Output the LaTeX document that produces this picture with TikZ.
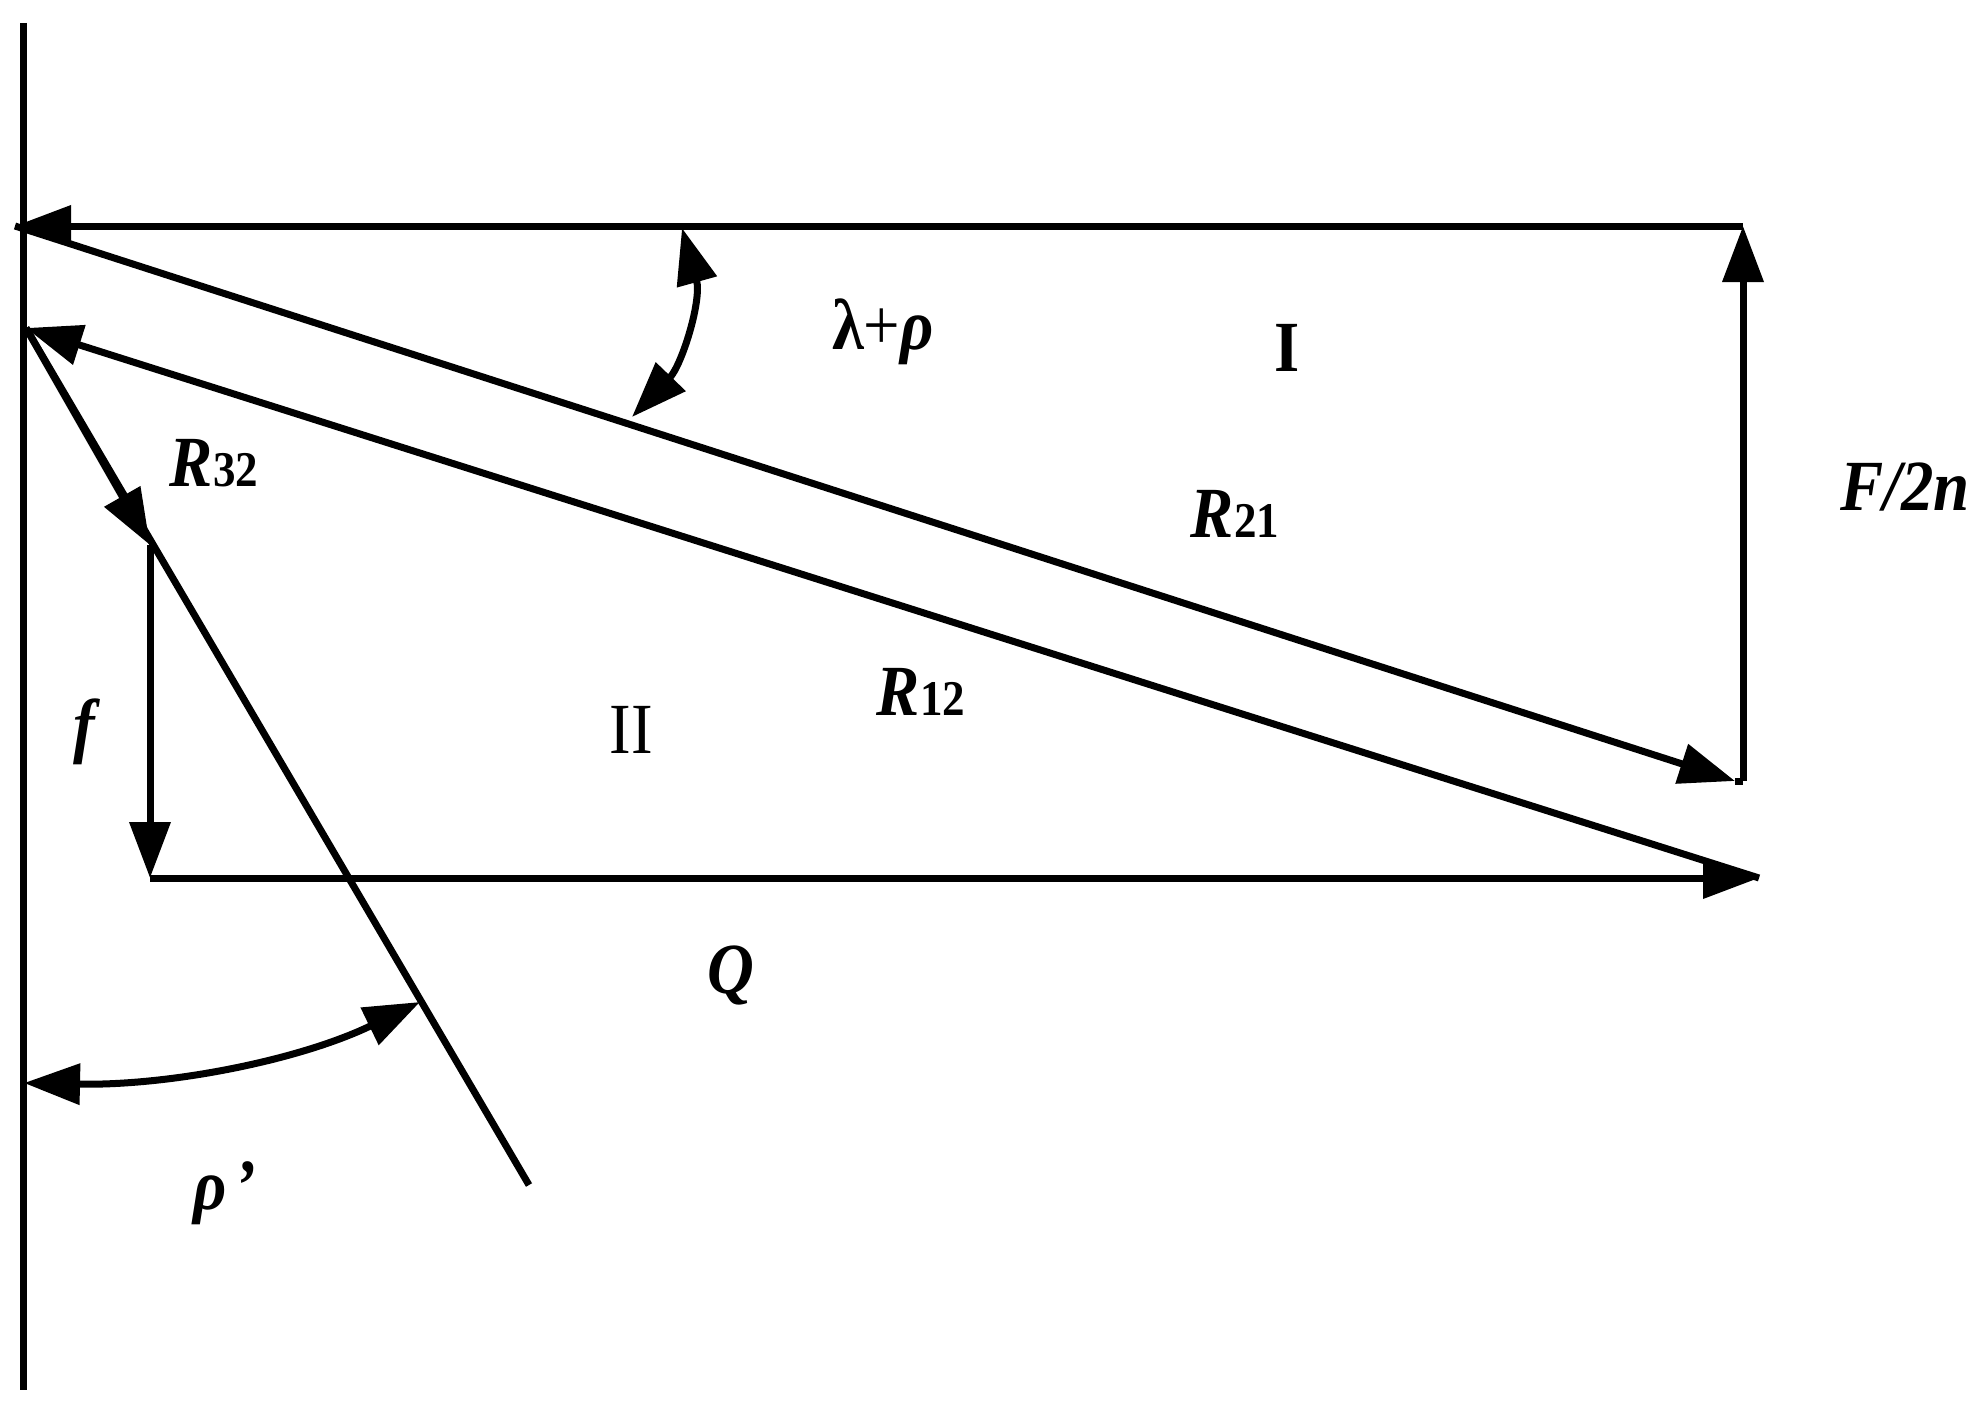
\documentclass[tikz,border=0pt]{standalone}
\usepackage{fontspec}
\setmainfont[FakeStretch=0.9]{Liberation Serif}
\usetikzlibrary{arrows.meta}
\newcommand{\subfont}{\fontsize{50}{54}\selectfont\upshape}
\tikzset{
  wire/.style={draw=black, line width=7pt},
  vec/.style={wire, -{Triangle[length=56pt,width=40pt]}},
  dblvec/.style={wire, {Triangle[length=56pt,width=40pt]}-{Triangle[length=56pt,width=40pt]}},
  lab/.style={inner sep=0pt, font=\fontsize{72}{76}\selectfont\bfseries\itshape}
}
\begin{document}
\begin{tikzpicture}[x=1pt,y=-1pt]
\useasboundingbox (0,0) rectangle (1986,1413);
\coordinate (Wtop) at (23,23);
\coordinate (Wbot) at (23,1390);
\coordinate (A) at (15,226);
\coordinate (B) at (1743,226);
\coordinate (C) at (1743,781);
\coordinate (C1) at (1735,781);
\coordinate (D) at (26,328);
\coordinate (E) at (1759,878);
\coordinate (F) at (150,878);
\coordinate (G) at (150,545);
\coordinate (H) at (529,1185);
\coordinate (Ang1) at (682,228);
\coordinate (Ang2) at (632,417);
\coordinate (Ang3) at (24,1083);
\coordinate (Ang4) at (420,1002);
\draw[wire] (Wtop) -- (Wbot);
\draw[vec] (B) -- (A);
\draw[vec] (C) -- (B);
\draw[vec] (A) -- (C1);
\draw[wire] (C1) -- (C);
\draw[vec] (E) -- (D);
\draw[wire] (D) -- (H);
\draw[vec] (D) -- (G);
\draw[vec] (G) -- (F);
\draw[vec] (F) -- (E);
\draw[dblvec] (Ang1) .. controls (702,300) and (682,365) .. (Ang2);
\draw[dblvec] (Ang3) .. controls (170,1086) and (300,1060) .. (Ang4);
% labels
\node[lab](Lrho) at (883,332) {{\upshape λ}{\mdseries\upshape +}ρ};
\node[lab](Lone) at (1287,348) {\upshape I};
\node[lab](Ltwo) at (631,730) {\upshape\mdseries II};
\node[lab](Rtt) at (214,463) {R{\subfont 32}};
\node[lab](Rto) at (1235,514) {R{\subfont 21}};
\node[lab](Rot) at (921,692) {R{\subfont 12}};
\node[lab](Fn) at (1905,487) {F/2n};
\node[lab](Lf) at (84,732) {f};
\node[lab](Lq) at (731,975) {Q};
\node[lab](Lp) at (225,1193) {ρ\kern8pt’};
\end{tikzpicture}
\end{document}
